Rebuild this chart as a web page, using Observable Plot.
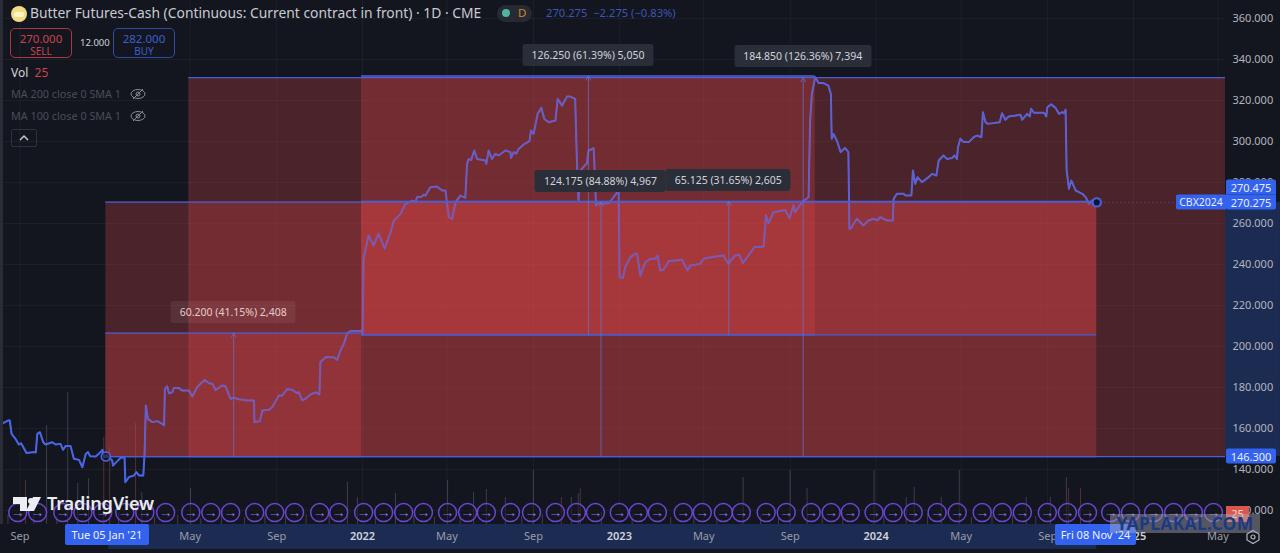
<!DOCTYPE html>
<html><head><meta charset="utf-8">
<script src="https://cdn.jsdelivr.net/npm/d3@7"></script>
<script src="https://cdn.jsdelivr.net/npm/@observablehq/plot@0.6"></script>
<style>
html,body{margin:0;padding:0;background:#14161f;width:1280px;height:553px;overflow:hidden;font-family:"Noto Sans",sans-serif}
#wrap{position:relative;width:1280px;height:553px;overflow:hidden}
#wrap svg.plot{position:absolute;left:0;top:0}
.o{position:absolute;white-space:nowrap;line-height:1}
.lab{position:absolute;transform:translate(-50%,-50%);white-space:nowrap;background:#2a2e39;color:#d1d4dc;font-size:10.5px;height:22px;line-height:22px;padding:0 9px;border-radius:3px}
.tag{position:absolute;background:#3362ee;color:#e8ecf8;font-size:11px;height:15px;line-height:15px;text-align:center;transform:translateY(-50%)}
.btn{position:absolute;box-sizing:border-box;width:62px;height:30px;border-radius:5px;border:1px solid;text-align:center;font-size:11.5px;line-height:13px;padding-top:3px}
.btn span{display:block;font-size:10px}
</style></head><body><div id="wrap"></div>
<script>
const years=[2020.601,2020.620,2020.627,2020.634,2020.649,2020.662,2020.671,2020.692,2020.721,2020.728,2020.734,2020.744,2020.757,2020.766,2020.792,2020.805,2020.824,2020.834,2020.844,2020.863,2020.876,2020.896,2020.909,2020.922,2020.931,2020.939,2020.961,2020.980,2020.987,2020.993,
2021.003,2021.025,2021.028,2021.045,2021.058,2021.073,2021.076,2021.090,2021.110,2021.119,2021.129,2021.146,2021.151,2021.156,2021.164,2021.181,2021.201,2021.223,2021.227,2021.230,2021.239,2021.246,2021.259,2021.265,2021.285,2021.298,2021.324,2021.337,2021.356,2021.385,2021.402,2021.415,2021.428,2021.454,2021.466,2021.486,2021.499,2021.518,2021.551,2021.577,2021.579,2021.600,2021.610,2021.635,2021.648,2021.674,2021.687,2021.706,2021.726,2021.745,2021.752,2021.765,2021.778,2021.797,2021.817,2021.832,2021.836,2021.856,2021.888,2021.901,2021.911,2021.927,2021.940,2021.953,2021.998,
2022.000,2022.004,2022.023,2022.043,2022.062,2022.086,2022.109,2022.122,2022.148,2022.167,2022.193,2022.206,2022.212,2022.232,2022.238,2022.245,2022.264,2022.290,2022.310,2022.323,2022.329,2022.336,2022.349,2022.362,2022.381,2022.400,2022.407,2022.413,2022.423,2022.435,2022.446,2022.478,2022.482,2022.491,2022.504,2022.517,2022.530,2022.556,2022.576,2022.578,2022.589,2022.598,2022.608,2022.627,2022.650,2022.656,2022.666,2022.682,2022.696,2022.708,2022.725,2022.751,2022.760,2022.777,2022.796,2022.809,2022.828,2022.835,2022.841,2022.848,2022.854,2022.874,2022.880,2022.900,2022.904,2022.909,2022.919,2022.932,2022.960,2022.997,
2023.001,2023.014,2023.023,2023.043,2023.062,2023.069,2023.082,2023.101,2023.121,2023.140,2023.149,2023.159,2023.172,2023.192,2023.244,2023.266,2023.276,2023.315,2023.328,2023.373,2023.406,2023.416,2023.425,2023.451,2023.468,2023.481,2023.503,2023.525,2023.562,2023.571,2023.581,2023.600,2023.646,2023.663,2023.678,2023.685,2023.711,2023.737,2023.743,2023.750,2023.763,2023.776,2023.795,2023.814,2023.824,2023.827,2023.834,2023.847,2023.862,2023.879,2023.892,2023.896,2023.901,2023.925,2023.951,2023.970,2023.990,
2024.005,2024.016,2024.041,2024.065,2024.068,2024.081,2024.107,2024.113,2024.137,2024.143,2024.152,2024.161,2024.178,2024.204,2024.217,2024.234,2024.243,2024.262,2024.275,2024.295,2024.304,2024.314,2024.318,2024.327,2024.340,2024.360,2024.379,2024.392,2024.409,2024.415,2024.425,2024.434,2024.480,2024.489,2024.502,2024.515,2024.561,2024.567,2024.587,2024.597,2024.602,2024.613,2024.652,2024.661,2024.665,2024.680,2024.697,2024.710,2024.723,2024.729,2024.736,2024.740,2024.749,2024.758,2024.775,2024.801,2024.814,2024.827,2024.840,2024.857];
const prices=[162.6,163.9,163.9,157.4,155.0,152.2,152.8,148.0,148.5,148.3,157.4,158.2,153.3,152.2,153.3,152.2,152.5,149.6,151.5,151.5,145.2,144.7,141.1,147.6,148.5,146.5,146.3,148.5,149.6,146.0,
146.8,144.4,141.9,144.1,145.7,146.0,133.8,136.3,137.1,138.7,137.1,137.1,147.6,171.2,164.7,163.1,163.6,162.0,161.5,179.3,180.6,177.2,177.7,179.7,179.7,178.5,178.5,175.6,180.2,183.7,182.1,181.8,178.8,181.0,180.6,174.5,175.0,174.3,173.7,173.7,163.1,163.6,168.8,169.1,170.4,176.1,176.1,179.2,178.9,177.2,177.7,173.7,174.5,176.6,177.6,176.6,192.4,194.8,194.8,193.5,197.2,201.3,206.5,207.5,207.5,
206.0,242.9,254.1,249.3,255.1,247.8,255.6,261.4,264.7,269.6,271.2,270.4,272.8,273.2,274.1,273.6,277.7,278.0,276.1,276.1,269.6,263.1,262.3,270.4,273.6,272.5,289.1,291.5,291.0,295.6,291.5,290.7,289.1,295.6,291.5,294.0,293.2,295.6,294.8,292.0,294.8,294.0,296.4,298.5,300.2,305.4,303.7,313.5,316.4,311.0,309.4,310.2,320.8,317.5,321.9,321.9,320.8,289.1,271.2,285.8,286.7,289.4,295.6,296.7,285.8,268.8,270.4,269.6,270.0,276.0,
233.8,233.5,238.7,243.6,245.2,245.2,234.6,241.1,242.8,242.8,244.4,237.1,237.4,241.6,242.3,237.1,239.5,240.3,242.8,243.9,244.4,242.0,240.6,244.4,244.7,240.6,244.4,248.4,248.8,263.9,260.1,265.5,266.6,262.6,268.8,265.5,270.4,272.8,310.2,323.2,331.4,328.5,328.5,327.3,323.2,301.3,303.7,300.5,294.8,296.9,294.8,257.4,257.4,262.3,259.0,261.5,262.3,
261.5,263.1,261.5,261.5,272.0,274.5,274.5,273.7,273.7,285.9,279.4,282.6,280.2,282.6,284.2,283.4,290.7,293.2,291.5,291.9,293.2,291.5,297.2,301.3,299.7,299.7,302.1,302.9,302.1,314.3,309.4,308.6,309.4,313.8,310.6,312.2,313.0,310.6,313.5,312.2,316.0,314.0,314.0,312.2,316.7,318.1,316.4,313.5,314.3,313.8,315.5,285.9,276.9,281.0,276.1,274.5,272.8,269.6,271.2,270.4];
const rollYears=[2020.658,2020.735,2020.833,2020.911,2020.988,2021.074,2021.152,2021.233,2021.331,2021.409,2021.486,2021.580,2021.658,2021.735,2021.833,2021.907,2022.004,2022.082,2022.160,2022.237,2022.331,2022.409,2022.482,2022.576,2022.658,2022.751,2022.833,2022.907,2023.000,2023.074,2023.148,2023.249,2023.323,2023.405,2023.475,2023.572,2023.650,2023.747,2023.825,2023.899,2023.992,2024.066,2024.144,2024.237,2024.315,2024.412,2024.490,2024.568,2024.665,2024.743,2024.821,2024.911,2024.988,2025.078,2025.156,2025.233,2025.311];
const volYears=[2020.688,2020.770,2020.852,2020.891,2020.933,2020.992,2021.015,2021.116,2021.140,2021.330,2021.941,2021.980,2022.128,2022.331,2022.432,2022.482,2022.556,2022.665,2022.774,2022.813,2022.840,2022.848,2023.482,2023.665,2023.731,2023.992,2024.117,2024.148,2024.253,2024.323,2024.583,2024.677,2024.739,2024.747,2024.794];
const volValues=[88,198,264,82,92,174,154,202,64,72,84,54,62,88,64,70,54,108,54,54,62,72,94,108,72,108,54,74,54,108,54,54,94,72,72];
const volRed=[1,0,0,0,0,1,1,1,0,0,0,0,0,0,0,0,0,0,1,0,0,1,0,0,0,0,0,0,0,0,0,0,0,1,1];
const smallVolYears=[2020.62,2020.72,2020.81,2021.05,2021.19,2021.28,2021.37,2021.45,2021.54,2021.62,2021.70,2021.78,2021.87,2022.05,2022.20,2022.28,2022.38,2022.62,2022.70,2022.93,2023.05,2023.20,2023.29,2023.38,2023.55,2023.62,2023.79,2023.87,2024.03,2024.20,2024.37,2024.45,2024.53,2024.62,2024.83];
const smallVolValues=[18,22,16,24,14,18,12,20,14,22,16,20,24,28,18,14,22,16,20,24,18,14,22,16,18,12,20,24,16,22,14,18,20,16,26];
const priceTicks=[360,340,320,300,280,260,240,220,200,180,160,140,120];
const monthTicks=["2020-09-01","2021-05-01","2021-09-01","2022-05-01","2022-09-01","2023-05-01","2023-09-01","2024-05-01","2024-09-01","2025-05-01"];
const monthLabels=["Sep","May","Sep","May","Sep","May","Sep","May","Sep","May"];
const yearTicks=["2022-01-01","2023-01-01","2024-01-01","2025-01-01"];
const yearLabels=["2022","2023","2024","2025"];
// measured ranges: start year, end year, low price, high price, label
const rangeStart=[2021.0,2021.323,2021.996,2021.0,2021.996];
const rangeEnd=[2024.857,2026.109,2023.763,2021.996,2024.857];
const rangeLow=[146.3,146.3,205.7,146.3,205.7];
const rangeHigh=[270.475,331.15,331.95,206.5,270.825];
const rangeLabels=["124.175 (84.88%) 4,967","184.850 (126.36%) 7,394","126.250 (61.39%) 5,050","60.200 (41.15%) 2,408","65.125 (31.65%) 2,605"];

const D=y=>{const Y=Math.floor(y);const a=Date.UTC(Y,0,1),b=Date.UTC(Y+1,0,1);return new Date(a+(y-Y)*(b-a));};
const series=years.map((y,i)=>({date:D(y),price:prices[i]}));
const ranges=rangeStart.map((s,i)=>({x1:D(s),x2:D(rangeEnd[i]),mid:D((s+rangeEnd[i])/2),lo:rangeLow[i],hi:rangeHigh[i],label:rangeLabels[i]}));
const VOL0=113.17, VOLK=0.244;
const vols=volYears.map((y,i)=>({date:D(y),v:volValues[i],red:volRed[i]})).concat(smallVolYears.map((y,i)=>({date:D(y),v:smallVolValues[i],red:0})));
const rolls=rollYears.map(y=>({date:D(y)}));
const BG="#14161f",LINE="#4a66e6",EDGE="#4a5ed6",BAND="#1c2b52",TXT="#b2b5be";
const xEnd=2025.358,panelEnd=2025.572;
const monthDates=monthTicks.map(d=>new Date(d)), yearDates=yearTicks.map(d=>new Date(d));
const lastDate=D(2024.857);

const plot=Plot.plot({
  width:1280,height:553,marginTop:0,marginLeft:0,marginRight:55,marginBottom:29,
  style:{background:"transparent",fontFamily:"'Noto Sans',sans-serif",overflow:"visible"},
  x:{type:"utc",domain:[D(2020.591),D(xEnd)],axis:null},
  y:{domain:[VOL0,368.78],axis:null},
  marks:[
    // highlighted axis bands
    Plot.rect([0],{x1:D(xEnd),x2:D(panelEnd),y1:146.3,y2:270.275,fill:BAND}),
    Plot.rect([0],{x1:D(2021.011),x2:D(2024.857),y1:VOL0,y2:101,fill:BAND}),
    Plot.gridX(monthDates.concat(yearDates),{stroke:"#fff",strokeOpacity:0.045}),
    Plot.gridY(priceTicks,{stroke:"#fff",strokeOpacity:0.045}),
    Plot.ruleX(vols,{x:"date",y1:VOL0,y2:d=>VOL0+d.v*VOLK,stroke:d=>d.red?"#b5584f":"#787b86",strokeOpacity:0.4,strokeWidth:1,clip:true}),
    Plot.line(series,{x:"date",y:"price",stroke:LINE,strokeWidth:2,curve:"linear",strokeLinejoin:"round"}),
    Plot.rect(ranges,{x1:"x1",x2:"x2",y1:"lo",y2:"hi",fill:"#e1464b",fillOpacity:0.27,clip:true}),
    Plot.line(series,{x:"date",y:"price",stroke:LINE,strokeWidth:1.4,strokeOpacity:0.75,curve:"linear",strokeLinejoin:"round"}),
    Plot.ruleY(ranges,{y:"lo",x1:"x1",x2:"x2",stroke:EDGE,strokeWidth:1.3,clip:true}),
    Plot.ruleY(ranges,{y:"hi",x1:"x1",x2:"x2",stroke:EDGE,strokeWidth:1.3,clip:true}),
    Plot.arrow(ranges,{x1:"mid",x2:"mid",y1:"lo",y2:"hi",stroke:"#6a70cc",strokeOpacity:0.75,strokeWidth:1,headLength:7,bend:0}),
    Plot.ruleY([270.275],{x1:lastDate,x2:D(xEnd),stroke:"#4a5ed6",strokeOpacity:0.7,strokeWidth:1,strokeDasharray:"1,3"}),
    Plot.dot([0],{x:D(2021.0),y:146.3,r:4.5,fill:BG,fillOpacity:0.6,stroke:LINE,strokeWidth:1.5}),
    Plot.dot([0],{x:lastDate,y:270.275,r:6,fill:LINE,fillOpacity:0.25}),
    Plot.dot([0],{x:lastDate,y:270.275,r:4,fill:"#0e1530",stroke:LINE,strokeWidth:1.8}),
    Plot.dot(rolls,{x:"date",y:119,r:9,stroke:"#6a45d6",strokeWidth:1.5,fill:BG,fillOpacity:0.5}),
    Plot.text(rolls,{x:"date",y:119,text:()=>"→",fill:"#8a72ea",fontSize:14,fontWeight:700}),
    Plot.axisY({anchor:"right",ticks:priceTicks,tickSize:0,tickPadding:7,tickFormat:d=>d3.format(".3f")(d),fill:TXT,fontSize:11,label:null}),
    Plot.axisX({anchor:"bottom",ticks:monthDates,tickSize:0,tickPadding:8,tickFormat:d=>monthLabels[monthDates.findIndex(m=>+m===+d)],fill:"#9a9da8",fontSize:11,label:null}),
    Plot.axisX({anchor:"bottom",ticks:yearDates,tickSize:0,tickPadding:8,tickFormat:d=>yearLabels[yearDates.findIndex(m=>+m===+d)],fill:"#d1d4dc",fontSize:11,fontWeight:600,label:null})
  ]
});
const wrap=document.getElementById("wrap");
wrap.appendChild(plot);
const sx=plot.scale("x").apply,sy=plot.scale("y").apply;
const add=(cls,css,html)=>{const e=document.createElement("div");e.className=cls;e.style.cssText=css;e.innerHTML=html;wrap.appendChild(e);return e;};
// measurement labels
ranges.forEach(r=>{
  const faded=r.label.startsWith("60.200");
  add("lab",`left:${sx(r.mid)}px;top:${sy(r.hi)-21}px;${faded?"background:rgba(255,255,255,.07);color:#ecc9c9;":""}`,r.label);
});
// left strip
add("o","left:0;top:0;width:3px;height:524px;background:#2a2d36","");
// header
add("o","left:0;top:0;width:0;height:0",`<svg width="40" height="30" style="position:absolute;left:8px;top:3px"><circle cx="11" cy="11" r="8" fill="#f2dc84"/><rect x="6" y="9" width="10" height="5" rx="2" fill="#fff6c8"/></svg>`);
add("o","left:30px;top:6px;font-size:13.85px;color:#c9cbd2","Butter Futures-Cash (Continuous: Current contract in front) · 1D · CME");
add("o","left:497px;top:5px;width:35px;height:17px;border-radius:9px;background:#262a33","");
add("o","left:502px;top:9px;width:8px;height:8px;border-radius:50%;background:#4fb59e","");
add("o","left:518px;top:7px;font-size:11.5px;color:#c8882e","D");
add("o","left:546px;top:7px;font-size:11.2px;color:#3a56b8","270.275&nbsp; −2.275 (−0.83%)");
add("btn","left:10px;top:28px;border-color:#a5393f;color:#c8434a","270.000<span>SELL</span>");
add("o","left:80px;top:38px;font-size:9.5px;color:#d1d4dc","12.000");
add("btn","left:113px;top:28px;border-color:#2f4ba8;color:#3a5fd0","282.000<span>BUY</span>");
add("o","left:11px;top:67px;font-size:12px;color:#d1d4dc",`Vol&nbsp; <span style="color:#c8434a">25</span>`);
const eye=`<svg width="16" height="12" viewBox="0 0 16 12" style="position:absolute;left:119px;top:-1px"><ellipse cx="8" cy="6" rx="7" ry="4.5" fill="none" stroke="#8a8d96"/><circle cx="8" cy="6" r="2" fill="none" stroke="#8a8d96"/><line x1="3" y1="11" x2="13" y2="1" stroke="#8a8d96"/></svg>`;
add("o","left:11px;top:89px;font-size:10.8px;color:#4a4d57","MA 200 close 0 SMA 1"+eye);
add("o","left:11px;top:111px;font-size:10.8px;color:#4a4d57","MA 100 close 0 SMA 1"+eye);
add("o","left:11px;top:129px;width:26px;height:18px;box-sizing:border-box;border:1px solid #2f323c;border-radius:2px",`<svg width="24" height="16"><path d="M8 10 L12 6 L16 10" fill="none" stroke="#c8cad0" stroke-width="1.5"/></svg>`);
// logo
add("o","left:13px;top:496px;width:30px;height:18px",`<svg width="30" height="18"><path d="M0 1H14V15H7V8H0Z M20 1H28L21 15H13Z" fill="#eceef2"/><circle cx="18" cy="5" r="3" fill="#eceef2"/></svg>`);
add("o","left:47px;top:494px;font-size:18.2px;font-weight:600;color:#e8eaee;letter-spacing:-.2px","TradingView");
// axis tags
add("tag",`left:1226px;width:50px;top:187px;border-radius:2px 2px 0 0`,"270.475");
add("tag",`left:1226px;width:50px;top:${sy(270.275)}px;border-radius:0 0 2px 2px`,"270.275");
add("tag",`left:1176px;width:50px;top:${sy(270.275)}px;border-radius:2px 0 0 2px;font-size:10.5px`,"CBX2024");
add("tag",`left:1226px;width:50px;top:${sy(146.3)}px;border-radius:2px`,"146.300");
add("o","left:1226px;top:506px;width:23px;height:16px;line-height:16px;background:#d9574f;color:#f5dcd8;font-size:11px;text-align:center;border-radius:0 2px 2px 0","25");
// date tags
add("o","left:65px;top:524px;width:84px;height:21px;line-height:21px;background:#3362ee;color:#eef1fa;font-size:11px;text-align:center;border-radius:2px","Tue 05 Jan '21");
add("o","left:1055px;top:524px;width:81px;height:21px;line-height:21px;background:#3362ee;color:#eef1fa;font-size:11px;text-align:center;border-radius:2px","Fri 08 Nov '24");
add("o","left:1245px;top:529px;width:16px;height:16px",`<svg width="16" height="16" viewBox="0 0 16 16"><path d="M8 1.5L14 5V11L8 14.5L2 11V5Z" fill="none" stroke="#b2b5be" stroke-width="1.2"/><circle cx="8" cy="8" r="2" fill="none" stroke="#b2b5be" stroke-width="1.2"/></svg>`);
// watermark
add("o","left:1110px;top:514px;width:150px;height:19px;line-height:19px;background:rgba(175,178,190,.42);color:#1d3a80;font-weight:700;font-size:17.5px;text-align:center;letter-spacing:.3px","YAPLAKAL.COM");
</script></body></html>
